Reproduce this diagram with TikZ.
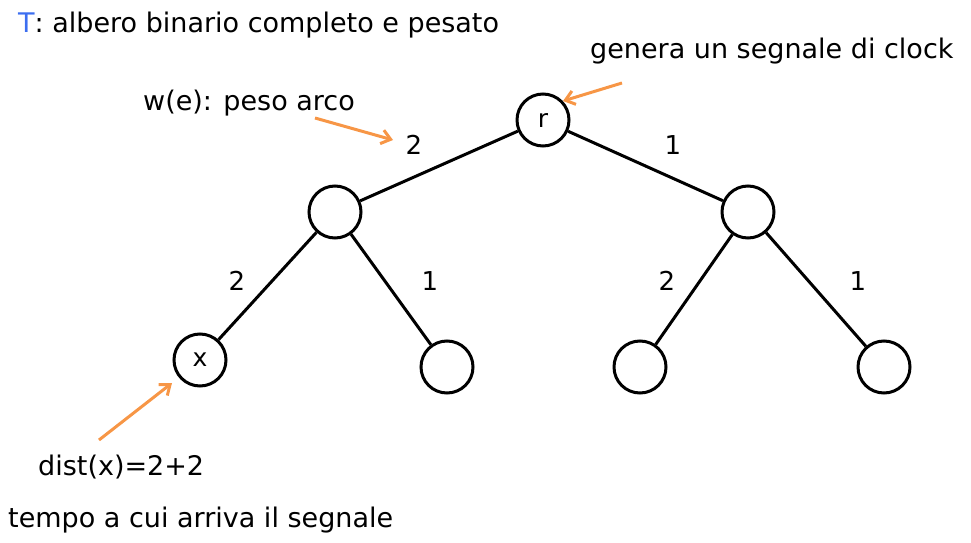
\documentclass[tikz,border=0pt]{standalone}
\usepackage{fontspec}
\setmainfont{DejaVu Sans}
\usetikzlibrary{arrows.meta}
\definecolor{orangearr}{RGB}{247,150,70}
\definecolor{tblue}{RGB}{60,110,240}
\begin{document}
\begin{tikzpicture}[x=1pt,y=-1pt,
  treenode/.style={draw,circle,line width=3pt,minimum size=52pt,inner sep=0pt,font=\fontsize{25}{28}\selectfont},
  treeedge/.style={line width=3pt},
  wlabel/.style={font=\fontsize{26}{30}\selectfont,inner sep=0pt},
  txt/.style={font=\fontsize{27}{32}\selectfont,inner sep=0pt,anchor=base west},
  note/.style={draw=orangearr,line width=3pt,-{Straight Barb[length=9pt,width=14pt]}}]
\useasboundingbox (0,0) rectangle (971,543);
\node[treenode] (r) at (543,120) {r};
\node[treenode] (L) at (335,212) {};
\node[treenode] (R) at (748,212) {};
\node[treenode] (x) at (200,360) {x};
\node[treenode] (LR) at (447,367) {};
\node[treenode] (RL) at (640,367) {};
\node[treenode] (RR) at (884,367) {};
\draw[treeedge] (r) -- (L);
\draw[treeedge] (r) -- (R);
\draw[treeedge] (L) -- (x);
\draw[treeedge] (L) -- (LR);
\draw[treeedge] (R) -- (RL);
\draw[treeedge] (R) -- (RR);
\node[wlabel] (w1) at (414,145) {2};
\node[wlabel] (w2) at (673,145) {1};
\node[wlabel] (w3) at (237,281) {2};
\node[wlabel] (w4) at (430,281) {1};
\node[wlabel] (w5) at (667,281) {2};
\node[wlabel] (w6) at (858,281) {1};
\node[txt] (title) at (18,33) {\textcolor{tblue}{T}: albero binario completo e pesato};
\node[txt] (we) at (143,110) {w(e): peso arco};
\node[txt] (clk) at (590,59) {genera un segnale di clock};
\node[txt] (dist) at (38,475) {dist(x)=2+2};
\node[txt] (tempo) at (8,527) {tempo a cui arriva il segnale};
\coordinate (a1s) at (315,118);
\coordinate (a1e) at (393,140);
\coordinate (a2s) at (622,83);
\coordinate (a2e) at (563,101);
\coordinate (a3s) at (99,440);
\coordinate (a3e) at (172,383);
\draw[note] (a1s) -- (a1e);
\draw[note] (a2s) -- (a2e);
\draw[note] (a3s) -- (a3e);
\end{tikzpicture}
\end{document}
